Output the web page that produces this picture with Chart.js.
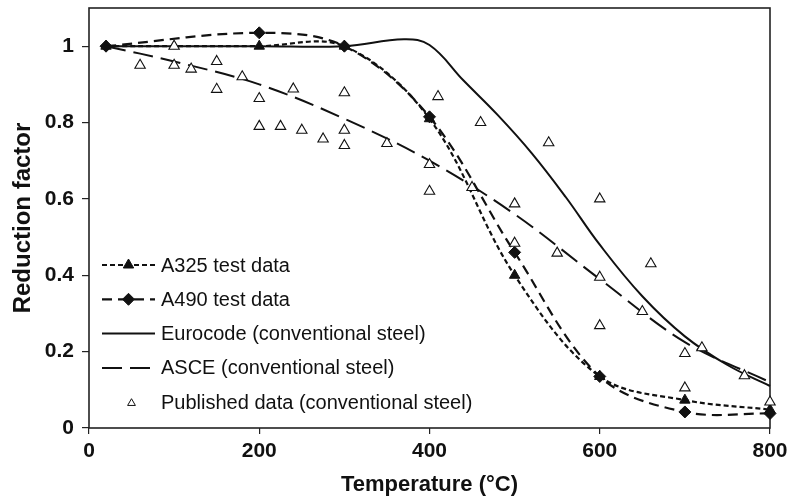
<!DOCTYPE html>
<html>
<head>
<meta charset="utf-8">
<script src="https://cdn.jsdelivr.net/npm/chart.js@4.4.1/dist/chart.umd.min.js"></script>
<style>
  html, body { margin: 0; padding: 0; background: #fff; }
  #wrap { width: 791px; height: 499px; }
</style>
</head>
<body>
<div id="wrap"><canvas id="grafico"></canvas></div>
<script>
// ==================================================
// Reduction factor x Temperature
// ==================================================

// ensaios (A325 / A490)
const tempTeste = [20, 200, 300, 400, 500, 600, 700, 800];
const a325 = [1.0, 1.0, 1.0, 0.81, 0.40, 0.135, 0.073, 0.048];
const a490 = [1.0, 1.035, 1.0, 0.815, 0.46, 0.135, 0.042, 0.038];

// Eurocode (curva lida ponto a ponto)
const tempEurocode = [20, 200, 300, 370, 400, 440, 480, 520, 560, 600, 650, 700, 750, 800];
const eurocode = [1.0, 1.0, 1.0, 1.018, 1.003, 0.91, 0.82, 0.72, 0.605, 0.48, 0.345, 0.24, 0.165, 0.11];

// ASCE
const tempAsce = [20, 100, 200, 300, 400, 500, 600, 700, 800];
const asce = [1.0, 0.96, 0.90, 0.81, 0.70, 0.56, 0.39, 0.225, 0.12];

// dados publicados (triângulos vazados)
const publicadoT = [60, 100, 100, 120, 150, 150, 180, 200, 200, 225, 240, 250, 275, 300, 300, 300,
    350, 400, 400, 410, 450, 460, 500, 500, 540, 550, 600, 600, 600, 650, 660, 700, 700, 720, 770, 800];
const publicadoF = [0.95, 1.0, 0.95, 0.94, 0.96, 0.887, 0.92, 0.863, 0.79, 0.79, 0.888, 0.78, 0.757, 0.878, 0.78, 0.74,
    0.745, 0.69, 0.62, 0.868, 0.63, 0.80, 0.587, 0.484, 0.747, 0.458, 0.60, 0.395, 0.268, 0.305, 0.43, 0.195, 0.105, 0.21, 0.137, 0.068];

// eixos
const ticksX = [0, 200, 400, 600, 800];
const ticksY = [0, 0.2, 0.4, 0.6, 0.8, 1];

const pares = (xs, ys) => xs.map((x, i) => ({ x: x, y: ys[i] }));

const COR = '#111';
const FONTE = '"Liberation Sans", Arial, Helvetica, sans-serif';

/**
 * Moldura em volta da área do gráfico
 */
const molduraPlugin = {
    id: 'moldura',
    beforeDatasetsDraw(chart) {
        const { ctx, chartArea: a } = chart;
        ctx.save();
        ctx.strokeStyle = '#222';
        ctx.lineWidth = 1.6;
        ctx.strokeRect(a.left, a.top, a.right - a.left, a.bottom - a.top);
        ctx.restore();
    }
};

function desenharMarcador(ctx, estilo, x, y, r, preenchido) {
    ctx.beginPath();
    if (estilo === 'triangle') {
        ctx.moveTo(x, y - r);
        ctx.lineTo(x + r * 0.866, y + r * 0.5);
        ctx.lineTo(x - r * 0.866, y + r * 0.5);
        ctx.closePath();
    } else if (estilo === 'rectRot') {
        ctx.moveTo(x, y - r);
        ctx.lineTo(x + r, y);
        ctx.lineTo(x, y + r);
        ctx.lineTo(x - r, y);
        ctx.closePath();
    }
    ctx.fillStyle = preenchido ? COR : '#fff';
    ctx.fill();
    ctx.lineWidth = 1;
    ctx.strokeStyle = COR;
    ctx.stroke();
}

/**
 * Legenda desenhada dentro da área (canto inferior esquerdo)
 */
const legendaPlugin = {
    id: 'legenda',
    afterDatasetsDraw(chart) {
        const { ctx, chartArea: a } = chart;
        const x0 = a.left + 13, x1 = a.left + 66, xt = a.left + 72;
        const ordem = [4, 3, 2, 1, 0]; // A325, A490, Eurocode, ASCE, Publicados
        ctx.save();
        ctx.font = '20px ' + FONTE;
        ctx.textBaseline = 'middle';
        ordem.forEach((idx, i) => {
            const ds = chart.data.datasets[idx];
            const y = a.bottom - 163 + i * 34.3;
            if (ds.showLine) {
                ctx.beginPath();
                ctx.setLineDash(ds.borderDash || []);
                ctx.lineWidth = ds.borderWidth;
                ctx.strokeStyle = COR;
                ctx.moveTo(x0, y);
                ctx.lineTo(x1, y);
                ctx.stroke();
                ctx.setLineDash([]);
                if (ds.pointRadius > 0) {
                    desenharMarcador(ctx, ds.pointStyle, (x0 + x1) / 2, y, ds.pointRadius, true);
                }
            } else {
                desenharMarcador(ctx, 'triangle', (x0 + x1) / 2 + 3, y + 1, 4.5, false);
            }
            ctx.fillStyle = COR;
            ctx.fillText(ds.label, xt, y + 1);
        });
        ctx.restore();
    }
};

const ctx = document.getElementById('grafico').getContext('2d');

new Chart(ctx, {
    type: 'scatter',
    data: {
        datasets: [
            {
                label: 'Published data (conventional steel)',
                data: pares(publicadoT, publicadoF),
                showLine: false,
                pointStyle: 'triangle',
                pointRadius: 6,
                pointBorderWidth: 1.1,
                borderColor: COR,
                backgroundColor: '#fff',
                clip: 10
            },
            {
                label: 'ASCE (conventional steel)',
                data: pares(tempAsce, asce),
                showLine: true,
                borderColor: COR,
                borderWidth: 2,
                borderDash: [20, 8],
                pointRadius: 0,
                tension: 0.35,
                clip: 10
            },
            {
                label: 'Eurocode (conventional steel)',
                data: pares(tempEurocode, eurocode),
                showLine: true,
                borderColor: COR,
                borderWidth: 2,
                pointRadius: 0,
                tension: 0.4,
                clip: 10
            },
            {
                label: 'A490 test data',
                data: pares(tempTeste, a490),
                showLine: true,
                borderColor: COR,
                backgroundColor: COR,
                borderWidth: 2.2,
                borderDash: [10, 6],
                pointStyle: 'rectRot',
                pointRadius: 6,
                pointBorderWidth: 1,
                tension: 0.35,
                clip: 10
            },
            {
                label: 'A325 test data',
                data: pares(tempTeste, a325),
                showLine: true,
                borderColor: COR,
                backgroundColor: COR,
                borderWidth: 2.2,
                borderDash: [5, 3],
                pointStyle: 'triangle',
                pointRadius: 6,
                pointBorderWidth: 1,
                tension: 0.35,
                clip: 10
            }
        ]
    },
    options: {
        responsive: true,
        maintainAspectRatio: false,
        animation: false,
        layout: { padding: { top: 8, right: 21, left: 0, bottom: 0 } },
        plugins: {
            legend: { display: false },
            tooltip: { enabled: false }
        },
        scales: {
            x: {
                type: 'linear',
                min: 0,
                max: 800,
                afterBuildTicks: scale => { scale.ticks = ticksX.map(v => ({ value: v })); },
                afterFit: scale => {
                    scale.height = 71;
                    scale.paddingLeft = 0;
                    scale.paddingRight = 0;
                },
                border: { display: false },
                grid: {
                    drawOnChartArea: false,
                    drawTicks: true,
                    tickLength: 6,
                    color: '#222',
                    lineWidth: 1.2
                },
                ticks: {
                    color: COR,
                    padding: 5,
                    maxRotation: 0,
                    font: { family: FONTE, size: 21, weight: 'bold' }
                },
                title: {
                    display: true,
                    text: 'Temperature (°C)',
                    color: COR,
                    padding: { top: 0, bottom: 1 },
                    font: { family: FONTE, size: 22, weight: 'bold' }
                }
            },
            y: {
                type: 'linear',
                min: 0,
                max: 1.1,
                afterBuildTicks: scale => { scale.ticks = ticksY.map(v => ({ value: v })); },
                afterFit: scale => {
                    scale.width = 89;
                    scale.paddingTop = 0;
                    scale.paddingBottom = 0;
                },
                border: { display: false },
                grid: {
                    drawOnChartArea: false,
                    drawTicks: true,
                    tickLength: 7,
                    color: '#222',
                    lineWidth: 1.2
                },
                ticks: {
                    color: COR,
                    padding: 8,
                    callback: v => String(v),
                    font: { family: FONTE, size: 21, weight: 'bold' }
                },
                title: {
                    display: true,
                    text: 'Reduction factor',
                    color: COR,
                    padding: { top: 9, bottom: 0 },
                    font: { family: FONTE, size: 24, weight: 'bold' }
                }
            }
        }
    },
    plugins: [molduraPlugin, legendaPlugin]
});
</script>
</body>
</html>
